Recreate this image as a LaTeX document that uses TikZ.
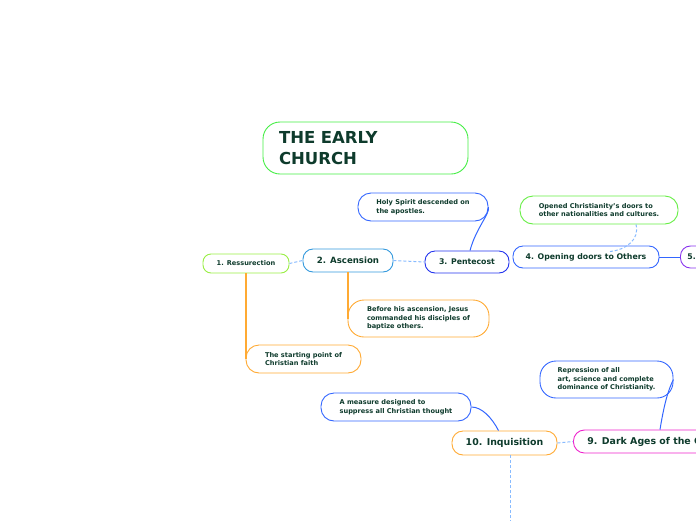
\documentclass[tikz,border=0pt]{standalone}
\usepackage{fontspec}
\setmainfont{DejaVu Sans}
\definecolor{txt}{HTML}{0E3B2C}
\definecolor{cgreen}{HTML}{44EE44}
\definecolor{clime}{HTML}{99EE44}
\definecolor{cgreen2}{HTML}{66EE44}
\definecolor{casc}{HTML}{3399DD}
\definecolor{cpent}{HTML}{2233EE}
\definecolor{cblue}{HTML}{3366FF}
\definecolor{cpurple}{HTML}{8833EE}
\definecolor{corange}{HTML}{FFAA33}
\definecolor{cmag}{HTML}{EE22CC}
\definecolor{cdash}{HTML}{88BBFF}
\tikzset{
  box/.style={draw, line width=0.9pt, text=txt, align=left, fill=white},
  small/.style={font=\bfseries\fontsize{6.6}{8.6}\selectfont},
  mid/.style={font=\bfseries\fontsize{7.8}{9}\selectfont},
  big/.style={font=\bfseries\fontsize{9.4}{11}\selectfont},
  dashlink/.style={draw=cdash, line width=1pt, dash pattern=on 3pt off 2pt},
  bluelink/.style={draw=cblue, line width=1pt},
  orangelink/.style={draw=corange, line width=1.1pt},
}
\begin{document}
\begin{tikzpicture}[x=1pt,y=-1pt]
\useasboundingbox (0,0) rectangle (696,520);
\clip (0,0) rectangle (696,520);
% nodes
\node[box, draw=cgreen, rounded corners=17pt, minimum height=52pt, text width=173pt, inner xsep=16pt,
  font=\bfseries\fontsize{16.5}{21}\selectfont] (title) at (365.5,148) {THE EARLY\\CHURCH};
\node[box, small, draw=clime, rounded corners=8pt, minimum width=86pt, minimum height=19pt, inner sep=0pt] (ress) at (246,263.5) {1. Ressurection};
\node[box, draw=casc, rounded corners=10pt, minimum width=90pt, minimum height=23pt, inner sep=0pt,
  font=\bfseries\fontsize{8.6}{10}\selectfont] (asc) at (348,260.5) {2. Ascension};
\node[box, mid, draw=cpent, rounded corners=10pt, minimum width=84pt, minimum height=22pt, inner sep=0pt] (pent) at (467,262) {3. Pentecost};
\node[box, small, draw=cblue, rounded corners=13pt, minimum width=130pt, minimum height=28pt, inner sep=0pt] (holy) at (423,207) {Holy Spirit descended on\\the apostles.};
\node[box, mid, draw=cblue, rounded corners=10pt, minimum width=146pt, minimum height=22pt, inner sep=0pt] (opening) at (586,257) {4. Opening doors to Others};
\node[box, small, draw=cgreen2, rounded corners=13pt, minimum width=158pt, minimum height=28pt, inner sep=0pt] (opened) at (599,210) {Opened Christianity's doors to\\other nationalities and cultures.};
\node[box, mid, draw=cpurple, rounded corners=10pt, minimum width=70pt, minimum height=22pt, inner xsep=7pt, anchor=west, text width=56pt] (five) at (680,257) {5.};
\node[box, small, draw=corange, rounded corners=16pt, minimum width=141pt, minimum height=37pt, inner sep=0pt] (before) at (418.5,318.5) {Before his ascension, Jesus\\commanded his disciples of\\baptize others.};
\node[box, small, draw=corange, rounded corners=13pt, minimum width=115pt, minimum height=28pt, inner sep=0pt] (start) at (303.5,359) {The starting point of\\Christian faith};
\node[box, big, draw=corange, rounded corners=11pt, minimum width=105pt, minimum height=24pt, inner sep=0pt] (inq) at (504.5,443) {10. Inquisition};
\node[box, big, draw=cmag, rounded corners=11pt, minimum height=23pt, inner xsep=14pt, anchor=west] (dark) at (573,441.5) {9. Dark Ages of the Church};
\node[box, small, draw=cblue, rounded corners=16pt, minimum width=133pt, minimum height=37pt, inner sep=0pt] (repr) at (606.5,379.5) {Repression of all\\art, science and complete\\dominance of Christianity.};
\node[box, small, draw=cblue, rounded corners=13pt, minimum width=150pt, minimum height=28pt, inner sep=0pt] (measure) at (396,407) {A measure designed to\\suppress all Christian thought};
\coordinate (down) at (510,522);
% connectors
\path[dashlink] (ress.east) -- (asc.west);
\path[dashlink] (asc.east) -- (pent.west);
\path[bluelink] ([xshift=3pt]pent.north) .. controls (476,228) and (490,214) .. (holy.east);
\path[dashlink] ([xshift=37pt]opened.south) .. controls (640,240) and (625,250) .. ([xshift=24pt,yshift=-6pt]opening.north);
\path[bluelink] (opening.east) -- (five.west);
\path[orangelink] (asc.south) -- (asc.south |- before.west);
\path[orangelink] (ress.south) -- (ress.south |- start.west);
\path[bluelink] ([xshift=-6pt]inq.north) .. controls (492,418) and (482,407) .. (measure.east);
\path[bluelink] ([xshift=87pt]dark.north west) .. controls (664,405) and (668,390) .. (repr.east);
\path[dashlink] (inq.east) -- (dark.west);
\path[dashlink] ([xshift=5.5pt]inq.south) -- (down);
\end{tikzpicture}
\end{document}
